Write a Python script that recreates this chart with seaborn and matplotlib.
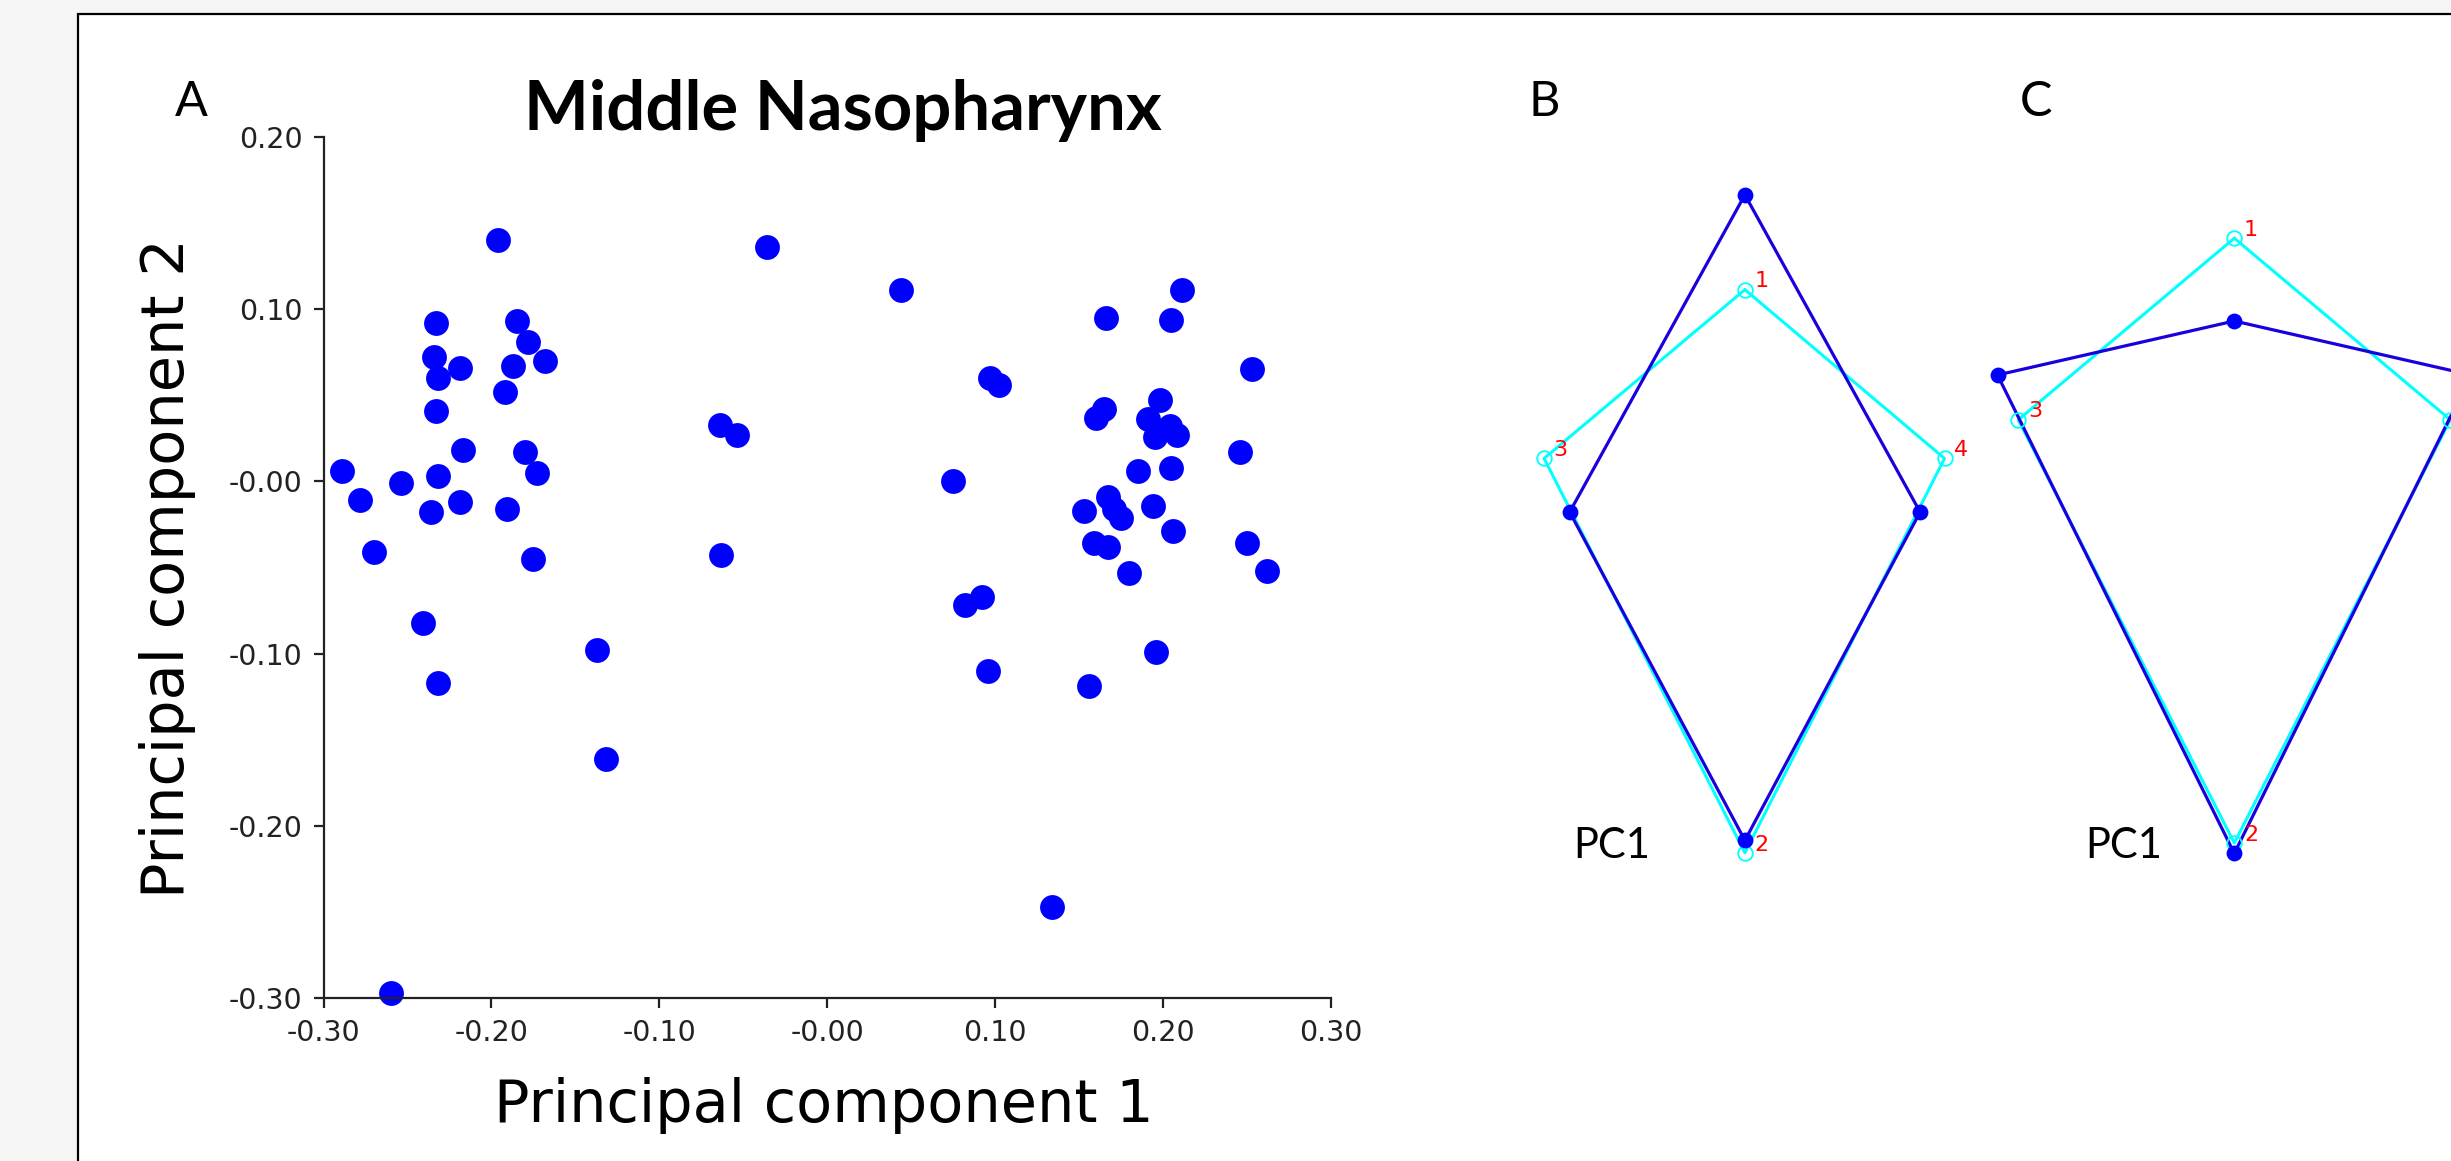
import matplotlib
matplotlib.use('Agg')
import matplotlib.pyplot as plt
from matplotlib.patches import Rectangle
import seaborn as sns

# --- data -------------------------------------------------------------
# panel A: PCA scores, Middle Nasopharynx
pc1 = [-0.196, -0.036, -0.233, -0.185, -0.178, -0.234, -0.219, -0.168,
       -0.187, -0.232, -0.192, -0.233, -0.064, -0.054, -0.217, -0.180,
       -0.289, -0.173, -0.232, -0.254, -0.278, -0.219, -0.236, -0.191,
       -0.270, -0.175, -0.063, -0.241, -0.137, -0.232, -0.132, -0.260,
       0.044, 0.211, 0.166, 0.205, 0.253, 0.097, 0.102, 0.165,
       0.160, 0.198, 0.191, 0.204, 0.208, 0.195, 0.246, 0.185,
       0.205, 0.075, 0.167, 0.153, 0.171, 0.175, 0.194, 0.206,
       0.159, 0.167, 0.250, 0.180, 0.262, 0.092, 0.082, 0.196,
       0.096, 0.156, 0.134]
pc2 = [0.140, 0.136, 0.092, 0.093, 0.081, 0.072, 0.066, 0.070,
       0.067, 0.060, 0.052, 0.041, 0.033, 0.027, 0.018, 0.017,
       0.006, 0.005, 0.003, -0.001, -0.011, -0.012, -0.018, -0.016,
       -0.041, -0.045, -0.043, -0.082, -0.098, -0.117, -0.161, -0.297,
       0.111, 0.111, 0.095, 0.094, 0.065, 0.060, 0.056, 0.042,
       0.037, 0.047, 0.036, 0.032, 0.027, 0.026, 0.017, 0.006,
       0.008, 0.000, -0.009, -0.017, -0.016, -0.021, -0.014, -0.029,
       -0.036, -0.038, -0.036, -0.053, -0.052, -0.067, -0.072, -0.099,
       -0.110, -0.119, -0.247]

x_ticks = [-0.3, -0.2, -0.1, 0.0, 0.1, 0.2, 0.3]
x_tick_labels = ['-0.30', '-0.20', '-0.10', '-0.00', '0.10', '0.20', '0.30']
y_ticks = [-0.3, -0.2, -0.1, 0.0, 0.1, 0.2]
y_tick_labels = ['-0.30', '-0.20', '-0.10', '-0.00', '0.10', '0.20']

# panels B and C: landmarks 1 (top), 2 (bottom), 3 (left), 4 (right)
landmark_ids = [1, 2, 3, 4]
b_mean_x = [0.0, 0.0, -0.438, 0.438]
b_mean_y = [0.800, -0.814, 0.007, 0.007]
b_pc_x = [0.0, 0.0, -0.502, 0.499]
b_pc_y = [0.563, -0.845, 0.141, 0.141]
b_labelled = [1, 2, 3, 4]

c_mean_x = [0.0, 0.0, -0.592, 0.592]
c_mean_y = [0.400, -0.931, 0.265, 0.265]
c_pc_x = [0.0, 0.0, -0.540, 0.540]
c_pc_y = [0.607, -0.905, 0.153, 0.153]
c_labelled = [1, 2, 3]   # label 4 falls outside the cropped figure

outline_order = [0, 3, 1, 2, 0]   # 1 -> 4 -> 2 -> 3 -> 1

W, H = 2451, 1161


def px_box(left, top, right, bottom):
    """Rectangle in pixel units -> figure fraction."""
    return [left / W, 1 - bottom / H, (right - left) / W, (bottom - top) / H]


def draw_shape(ax, mean_x, mean_y, pc_x, pc_y, labelled):
    """Outline of the mean shape and of the PC1 shape."""
    ax.plot([pc_x[i] for i in outline_order], [pc_y[i] for i in outline_order],
            color='#00ffff', lw=2.2, zorder=2)
    ax.plot([mean_x[i] for i in outline_order], [mean_y[i] for i in outline_order],
            color='#1a00dd', lw=2.3, zorder=3)
    ax.plot(pc_x, pc_y, 'o', mfc='none', mec='#00ffff', ms=10.5, mew=1.3, zorder=4)
    sns.scatterplot(x=mean_x, y=mean_y, ax=ax, color='#0000ff', s=130,
                    linewidth=0, zorder=5)
    for lid, x, y in zip(landmark_ids, pc_x, pc_y):
        if lid in labelled:
            ax.annotate(str(lid), (x, y), xytext=(12, 6), textcoords='offset points',
                        color='#ff0000', fontsize=16, ha='center', va='center')
    ax.set_axis_off()


sns.set_style('ticks')
plt.rcParams['font.family'] = ['DejaVu Sans']
plt.rcParams['text.color'] = 'black'
plt.rcParams['axes.labelcolor'] = 'black'

fig = plt.figure(figsize=(W / 100, H / 100), dpi=100, facecolor='#f5f5f5')
fig.add_artist(Rectangle((77.7 / W, -0.1), 1.2, 1.1 - 14.2 / H,
                         transform=fig.transFigure, facecolor='white',
                         edgecolor='black', linewidth=1.6, zorder=-1))

# --- panel A ----------------------------------------------------------
ax = fig.add_axes(px_box(323.5, 137, 1331, 998))
ax.set_facecolor('none')
sns.scatterplot(x=pc1, y=pc2, ax=ax, color='#0000ff', s=320, linewidth=0,
                clip_on=False)
ax.set_xlim(-0.3, 0.3)
ax.set_ylim(-0.3, 0.2)
ax.set_xticks(x_ticks)
ax.set_xticklabels(x_tick_labels)
ax.set_yticks(y_ticks)
ax.set_yticklabels(y_tick_labels)
sns.despine(ax=ax)
for side in ['left', 'bottom']:
    ax.spines[side].set_linewidth(1.6)
    ax.spines[side].set_color('#222222')
ax.tick_params(direction='out', length=7.2, width=1.6, color='#222222',
               labelsize=20.5, labelcolor='#222222', pad=8)

ax.set_xlabel('Principal component 1', fontsize=42.5)
ax.xaxis.set_label_coords(0.4968, -0.1254)
ax.xaxis.label.set_va('center')
ax.set_ylabel('Principal component 2', fontsize=42.5)
ax.yaxis.set_label_coords(-0.1553, 0.4994)
ax.yaxis.label.set_va('center')

fig.text(843 / W, 1 - 111 / H, 'Middle Nasopharynx', family='Lato',
         weight='bold', fontsize=49.5, ha='center', va='center')

# --- panels B and C ---------------------------------------------------
ax_b = fig.add_axes(px_box(1444.9, 150, 2044.9, 950))
ax_b.set_xlim(-0.75, 0.75)
ax_b.set_ylim(-1.0879, 0.9121)
draw_shape(ax_b, b_mean_x, b_mean_y, b_pc_x, b_pc_y, b_labelled)

ax_c = fig.add_axes(px_box(1934.3, 150, 2534.3, 950))
ax_c.set_xlim(-0.75, 0.75)
ax_c.set_ylim(-1.1725, 0.8275)
draw_shape(ax_c, c_mean_x, c_mean_y, c_pc_x, c_pc_y, c_labelled)

# panel letters and PC labels
for letter, x in [('A', 191), ('B', 1544), ('C', 2036)]:
    fig.text(x / W, 1 - 101.5 / H, letter, family='Lato', fontsize=35,
             ha='center', va='center')
for x in [1612, 2124]:
    fig.text(x / W, 1 - 846 / H, 'PC1', family='Lato', fontsize=30,
             ha='center', va='center')

fig.savefig('out.png', dpi=100, facecolor=fig.get_facecolor())
